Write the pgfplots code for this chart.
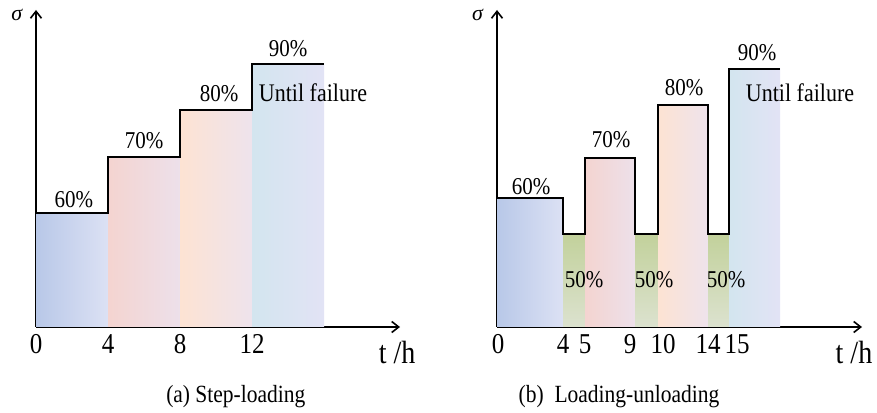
\documentclass[border=0pt]{standalone}
\usepackage{pgfplots}
\pgfplotsset{compat=1.18}
\usetikzlibrary{arrows.meta}
\usepackage{fontspec}
\setmainfont{Liberation Serif}

\definecolor{cblueA}{HTML}{B8C8E8}
\definecolor{cblueB}{HTML}{DCE1F4}
\definecolor{cpinkA}{HTML}{F4D4D0}
\definecolor{cpinkB}{HTML}{EDE0EA}
\definecolor{cpeachA}{HTML}{FDE3D3}
\definecolor{cpeachB}{HTML}{EEE3EC}
\definecolor{cskyA}{HTML}{D3E5EF}
\definecolor{cskyB}{HTML}{E2E3F5}
\definecolor{cgreenA}{HTML}{C2D19B}
\definecolor{cgreenB}{HTML}{DCE2CF}

% text in the reference is slightly stretched vertically
\newcommand{\tx}[2]{\scalebox{1}[1.15]{\fontsize{#1}{#1}\selectfont #2}}
\newcommand{\tk}[1]{\tx{25bp}{#1}}

\pgfplotsset{
  stepaxis/.style={
    scale only axis, clip=false,
    axis lines=left,
    axis line style={line width=1.6bp, -{Straight Barb[length=7bp,width=11bp,line width=1.6bp]}},
    ymin=0, ymax=317, height=317bp,
    xmin=0,
    ytick=\empty,
    major tick length=0pt,
    xticklabel style={yshift=-4bp, text=black},
  },
  steps/.style={black, line width=2.4bp, no marks, line join=miter},
}

\begin{document}
\begin{tikzpicture}
\path[use as bounding box] (0,0) rectangle (877bp,413bp);

% (a) step-loading, x in hours
\begin{axis}[stepaxis, at={(36bp,86bp)}, anchor=south west,
  width=364bp, xmax=20.22,
  xtick={0,4,8,12},
  xticklabels={\tk{0},\tk{4},\tk{8},\tk{12}}]
\addplot[draw=none, left color=cblueA, right color=cblueB] coordinates {(0,114) (4,114)} \closedcycle;
\addplot[draw=none, left color=cpinkA, right color=cpinkB] coordinates {(4,170) (8,170)} \closedcycle;
\addplot[draw=none, left color=cpeachA, right color=cpeachB] coordinates {(8,217) (12,217)} \closedcycle;
\addplot[draw=none, left color=cskyA, right color=cskyB] coordinates {(12,263) (16,263)} \closedcycle;
\addplot[steps] coordinates {
  (0,114) (4,114) (4,170) (8,170) (8,217) (12,217) (12,263) (16,263)};
\node at (axis cs:2.11,127) {\tx{21bp}{60\%}};
\node at (axis cs:6.0,186) {\tx{21bp}{70\%}};
\node at (axis cs:10.17,233) {\tx{21bp}{80\%}};
\node at (axis cs:14.0,278) {\tx{21bp}{90\%}};
\node at (axis cs:15.39,234) {\tx{22bp}{Until failure}};
\node at (axis cs:20.06,-25) {\tx{28bp}{t /h}};
\node[anchor=base, inner sep=0pt, font=\fontsize{22bp}{22bp}\selectfont] at (axis cs:-1.05,306) {\textit{σ}};
\node at (axis cs:11.1,-70) {\tx{21.5bp}{(a) Step-loading}};
\end{axis}

% (b) loading-unloading, schematic x positions
\begin{axis}[stepaxis, at={(497bp,86bp)}, anchor=south west,
  width=365bp, xmax=365,
  xtick={1,66,88,133,166,211,240},
  xticklabels={\tk{0},\tk{4},\tk{5},\tk{9},\tk{10},\tk{14},\tk{15}}]
\addplot[draw=none, left color=cblueA, right color=cblueB] coordinates {(0,129) (66,129)} \closedcycle;
\addplot[draw=none, top color=cgreenA, bottom color=cgreenB] coordinates {(66,93) (88,93)} \closedcycle;
\addplot[draw=none, left color=cpinkA, right color=cpinkB] coordinates {(88,169) (138,169)} \closedcycle;
\addplot[draw=none, top color=cgreenA, bottom color=cgreenB] coordinates {(138,93) (161,93)} \closedcycle;
\addplot[draw=none, left color=cpeachA, right color=cpeachB] coordinates {(161,222) (211,222)} \closedcycle;
\addplot[draw=none, top color=cgreenA, bottom color=cgreenB] coordinates {(211,93) (232,93)} \closedcycle;
\addplot[draw=none, left color=cskyA, right color=cskyB] coordinates {(232,258) (283,258)} \closedcycle;
\addplot[steps] coordinates {
  (0,129) (66,129) (66,93) (88,93) (88,169) (138,169) (138,93) (161,93)
  (161,222) (211,222) (211,93) (232,93) (232,258) (283,258)};
\node at (axis cs:34,140) {\tx{21bp}{60\%}};
\node at (axis cs:114,187) {\tx{21bp}{70\%}};
\node at (axis cs:187,239) {\tx{21bp}{80\%}};
\node at (axis cs:260,274) {\tx{21bp}{90\%}};
\node at (axis cs:303,234) {\tx{22bp}{Until failure}};
\node at (axis cs:87,47) {\tx{21bp}{50\%}};
\node at (axis cs:157,47) {\tx{21bp}{50\%}};
\node at (axis cs:229,47) {\tx{21bp}{50\%}};
\node at (axis cs:357,-25) {\tx{28bp}{t /h}};
\node[anchor=base, inner sep=0pt, font=\fontsize{22bp}{22bp}\selectfont] at (axis cs:-19,306) {\textit{σ}};
\node at (axis cs:122,-70) {\tx{21.5bp}{(b)\ \ Loading-unloading}};
\end{axis}
\end{tikzpicture}
\end{document}
